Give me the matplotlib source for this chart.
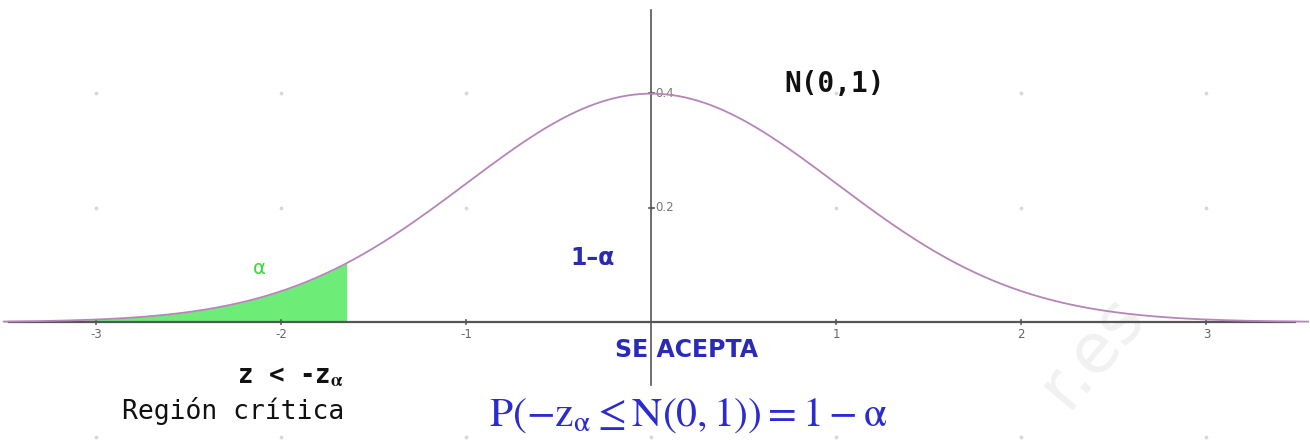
import numpy as np
import matplotlib
matplotlib.use("Agg")
import matplotlib.pyplot as plt

# Standard normal and the one-sided critical value
mu = 0.0
sigma = 1.0
z_alpha = 1.645
x_ticks = [-3, -2, -1, 1, 2, 3]
x_tick_labels = ["-3", "-2", "-1", "1", "2", "3"]
y_ticks = [0.2, 0.4]
y_tick_labels = ["0.2", "0.4"]
grid_x = [-3, -2, -1, 0, 1, 2, 3]
grid_y = [-0.2, 0.2, 0.4]

plt.rcParams["mathtext.fontset"] = "stix"

fig = plt.figure(figsize=(13.1, 4.4), dpi=100)
ax = fig.add_axes([0, 0, 1, 1])
ax.set_xlim(-3.52, 3.56)
ax.set_ylim(-0.206, 0.5625)
ax.axis("off")

# dotted grid at integer x and every 0.2 in y
gx, gy = np.meshgrid(grid_x, grid_y)
ax.scatter(gx.ravel(), gy.ravel(), s=3, color="#d8d8d8", zorder=0)

# faint watermark
ax.text(2.38, -0.05, "r.es", color="#f1f1f1", fontsize=50, rotation=50,
        ha="center", va="center", zorder=0, family="DejaVu Sans")

# axes through the origin
axis_col = "#555555"
ax.plot([-3.47, 3.48], [0, 0], color=axis_col, lw=1.6, zorder=2)
ax.plot([0, 0], [-0.11, 0.545], color=axis_col, lw=1.2, zorder=2)
for t, lab in zip(x_ticks, x_tick_labels):
    ax.plot([t, t], [-0.004, 0.004], color=axis_col, lw=1.2, zorder=2)
    ax.text(t, -0.022, lab, ha="center", va="center", fontsize=8.5, color="#666666")
for t, lab in zip(y_ticks, y_tick_labels):
    ax.plot([-0.015, 0.015], [t, t], color=axis_col, lw=1.2, zorder=2)
    ax.text(0.02, t, lab, ha="left", va="center", fontsize=8.5, color="#777777")

# density curve
xs = np.linspace(-3.5, 3.55, 800)
pdf = np.exp(-0.5 * ((xs - mu) / sigma) ** 2) / (sigma * np.sqrt(2 * np.pi))
ax.plot(xs, pdf, color="#b585b8", lw=1.3, zorder=3)

# rejection region
mask = xs <= mu - z_alpha * sigma
ax.fill_between(xs[mask], 0, pdf[mask], color="#6ded78", lw=0, zorder=1)

# labels
ax.text(-2.12, 0.094, "\u03b1", color="#33dd33", fontsize=14, ha="center", va="center",
        family="DejaVu Sans")
ax.text(-0.32, 0.112, "1\u2013\u03b1", color="#2a2ab0", fontsize=17, fontweight="bold",
        ha="center", va="center", family="DejaVu Sans")
ax.text(0.99, 0.415, "N(0,1)", color="#111111", fontsize=20, fontweight="bold",
        ha="center", va="center", family="DejaVu Sans Mono")
ax.text(0.19, -0.049, "SE ACEPTA", color="#2a2ab8", fontsize=17, fontweight="bold",
        ha="center", va="center", family="DejaVu Sans")
ax.text(-1.95, -0.095, r"z < -z$_{\mathbf{\alpha}}$", color="#111111", fontsize=18.5,
        fontweight="bold", ha="center", va="center", family="DejaVu Sans Mono")
ax.text(-2.26, -0.155, "Región crítica", color="#111111", fontsize=19,
        ha="center", va="center", family="DejaVu Sans Mono")
ax.text(0.2, -0.161, r"$\mathrm{P}(-\mathrm{z}_{\mathrm{\alpha}}\leq\mathrm{N}(0,1))=1-\mathrm{\alpha}$",
        color="#2b2bd0", fontsize=30, ha="center", va="center")

fig.savefig("out.png", dpi=100)
